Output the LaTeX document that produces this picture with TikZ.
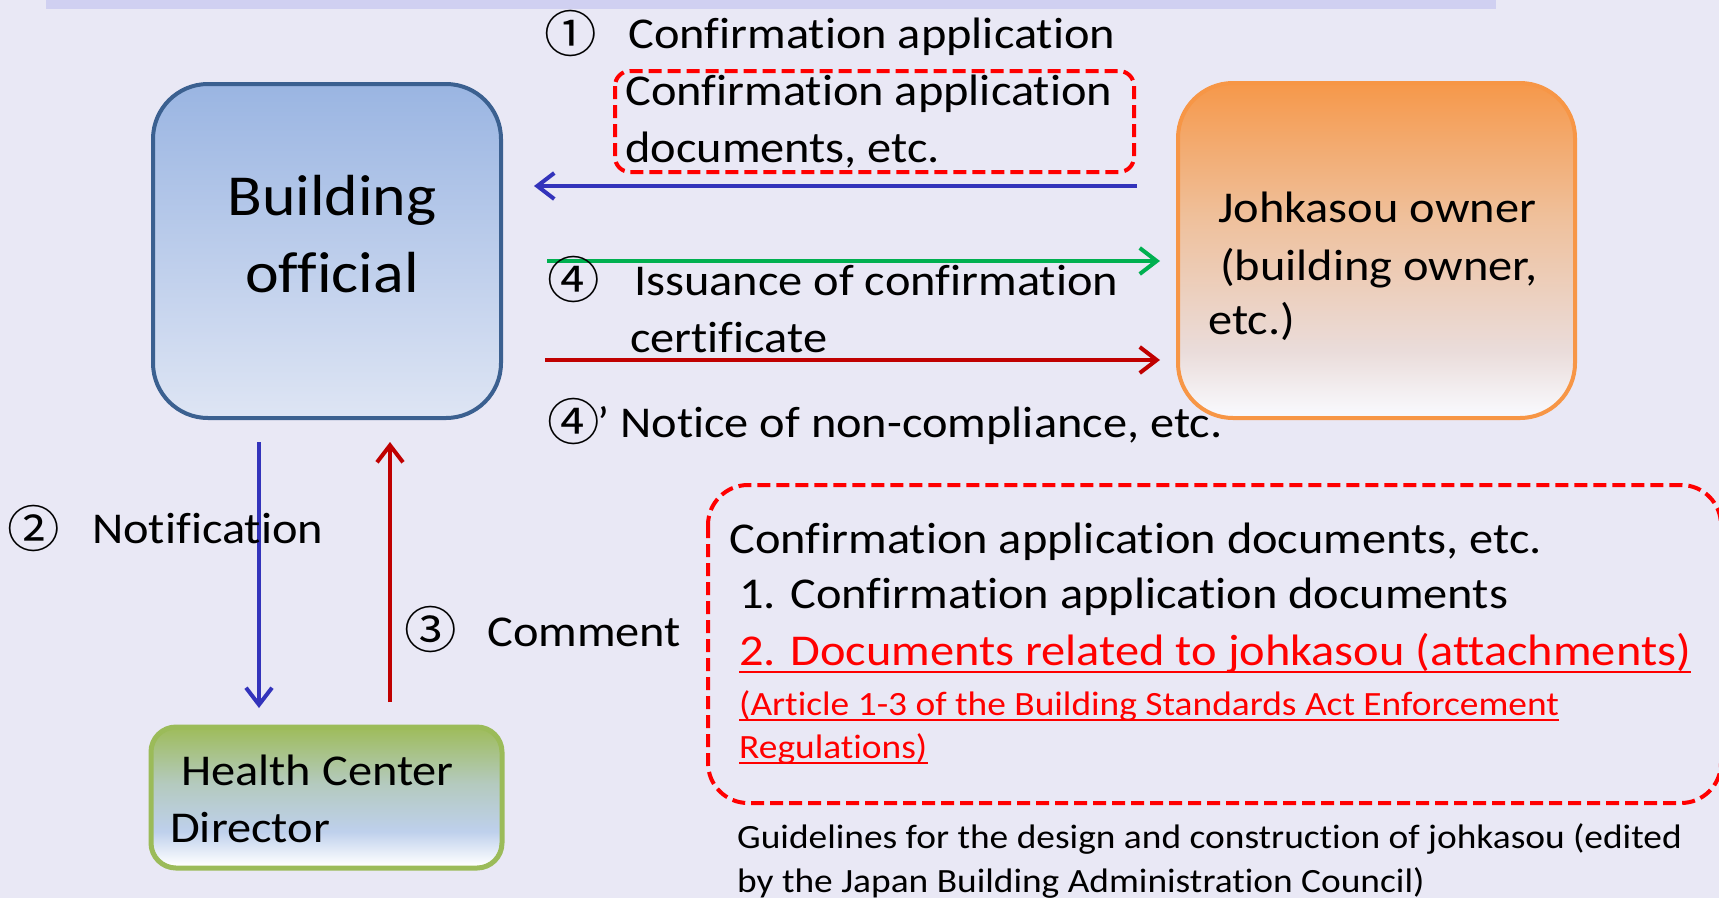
\documentclass[tikz,border=0pt]{standalone}
\usepackage{fontspec}
\setmainfont{Carlito}[FakeStretch=1.1, Ligatures=NoCommon]
\newfontfamily\circfont{Noto Sans CJK JP}[FakeStretch=1.05]
\usetikzlibrary{arrows.meta}

\definecolor{bgcol}{RGB}{233,232,245}
\definecolor{bandcol}{RGB}{208,208,241}
\definecolor{offline}{RGB}{59,96,144}
\definecolor{offtop}{RGB}{154,181,226}
\definecolor{offbot}{RGB}{222,229,244}
\definecolor{ownline}{RGB}{247,150,70}
\definecolor{owntop}{RGB}{246,152,74}
\definecolor{ownmid}{RGB}{239,192,155}
\definecolor{ownlow}{RGB}{234,220,218}
\definecolor{ownbot}{RGB}{248,248,252}
\definecolor{hcline}{RGB}{155,187,89}
\definecolor{hctop}{RGB}{158,188,90}
\definecolor{hcmid}{RGB}{180,202,190}
\definecolor{hcblue}{RGB}{190,208,236}
\definecolor{arrblue}{RGB}{51,51,187}
\definecolor{arrgreen}{RGB}{0,176,80}
\definecolor{arrred}{RGB}{192,0,0}

\pgfdeclareverticalshading{ownershade}{100bp}{color(0bp)=(ownbot); color(26bp)=(ownbot); color(35bp)=(ownlow); color(55bp)=(ownmid); color(75bp)=(owntop); color(100bp)=(owntop)}
\pgfdeclareverticalshading{healthshade}{100bp}{color(0bp)=(white); color(26bp)=(white); color(38bp)=(hcblue); color(55bp)=(hcmid); color(75bp)=(hctop); color(100bp)=(hctop)}

\tikzset{
  lbl/.style={inner sep=0pt, anchor=base west, font=\fontsize{44}{53}\selectfont},
  small/.style={inner sep=0pt, anchor=base west, font=\fontsize{34}{41}\selectfont},
  num/.style={inner sep=0pt, font=\circfont\fontsize{50}{60}\selectfont},
  redtxt/.style={text=red},
  ul/.style={red, line width=2.5pt},
  reddash/.style={draw=red, line width=4pt, dash pattern=on 13pt off 6pt},
  arr/.style={line width=4pt, -{Straight Barb[length=17pt,width=26pt]}}
}

\begin{document}
\begin{tikzpicture}[x=1pt,y=-1pt]
  % background and band
  \fill[bgcol] (0,0) rectangle (1719,898);
  \fill[bandcol] (46,0) rectangle (1496,9);
  \useasboundingbox (0,0) rectangle (1719,898);

  % boxes
  \node[draw=offline, line width=4pt, rounded corners=55pt, top color=offtop, bottom color=offbot,
        minimum width=348, minimum height=334, inner sep=0pt] (official) at (327,251) {};
  \node[draw=ownline, line width=4pt, rounded corners=55pt, shading=ownershade,
        minimum width=397, minimum height=335, inner sep=0pt] (owner) at (1376.5,250.5) {};
  \node[draw=hcline, line width=5pt, rounded corners=25pt, shading=healthshade,
        minimum width=351, minimum height=141, inner sep=0pt] (health) at (326.5,797.5) {};

  % box texts
  \node[inner sep=0pt, anchor=base, font=\fontsize{58}{70}\selectfont] (officialA) at (332,215) {Building};
  \node[inner sep=0pt, anchor=base, font=\fontsize{58}{70}\selectfont] (officialB) at (332,292) {official};
  \node[lbl] (ownerA) at (1218,222) {Johkasou owner};
  \node[lbl] (ownerB) at (1220,280) {(building owner,};
  \node[lbl] (ownerC) at (1208,334) {etc.)};
  \node[lbl] (healthA) at (181,785) {Health Center};
  \node[lbl] (healthB) at (170,842) {Director};

  % step 1
  \node[num] (n1) at (571,33) {①};
  \node[lbl] (applA) at (628,48) {Confirmation application};
  \draw[reddash, rounded corners=15pt] (615,71) rectangle (1134,172);
  \node[lbl] (docsA) at (625,105) {Confirmation application};
  \node[lbl] (docsB) at (625,162) {documents, etc.};
  \coordinate (applR) at (1137,186);
  \coordinate (applL) at (534,186);
  \draw[arr, arrblue] (applR) -- (applL);

  % step 4
  \coordinate (issL) at (547,261);
  \coordinate (issR) at (1160,261);
  \draw[arr, arrgreen] (issL) -- (issR);
  \node[num] (n4) at (574,279) {④};
  \node[lbl] (issA) at (634,295) {Issuance of confirmation};
  \node[lbl] (issB) at (630,352) {certificate};
  \coordinate (nonL) at (545,360);
  \coordinate (nonR) at (1160,360);
  \draw[arr, arrred] (nonL) -- (nonR);
  \node[num] (n4b) at (574,421) {④};
  \node[lbl] (nonA) at (597,437) {’ Notice of non-compliance, etc.};

  % steps 2 and 3
  \coordinate (notT) at (259,442);
  \coordinate (notB) at (259,708);
  \draw[arr, arrblue] (notT) -- (notB);
  \coordinate (comB) at (390,702);
  \coordinate (comT) at (390,442);
  \draw[arr, arrred] (comB) -- (comT);
  \node[num] (n2) at (34,528) {②};
  \node[lbl] (notA) at (92,543) {Notification};
  \node[num] (n3) at (431,629) {③};
  \node[lbl] (comA) at (487,646) {Comment};

  % documents list
  \draw[reddash, rounded corners=40pt] (708,485) rectangle (1721,803);
  \node[lbl] (listA) at (729,553) {Confirmation application documents, etc.};
  \node[lbl] (listB) at (739,608) {1. Confirmation application documents};
  \node[lbl, redtxt] (listC) at (739,665) {2. Documents related to johkasou (attachments)};
  \node[small, redtxt] (listD) at (739,715) {(Article 1-3 of the Building Standards Act Enforcement};
  \node[small, redtxt] (listE) at (739,758) {Regulations)};
  \draw[ul] ([yshift=-7pt]listC.base west) -- ([yshift=-7pt]listC.base east);
  \draw[ul, line width=2pt] ([yshift=-5pt]listD.base west) -- ([yshift=-5pt]listD.base east);
  \draw[ul, line width=2pt] ([yshift=-5pt]listE.base west) -- ([yshift=-5pt]listE.base east);
  \node[small] (srcA) at (737,848) {Guidelines for the design and construction of johkasou (edited};
  \node[small] (srcB) at (737,892) {by the Japan Building Administration Council)};
\end{tikzpicture}
\end{document}
